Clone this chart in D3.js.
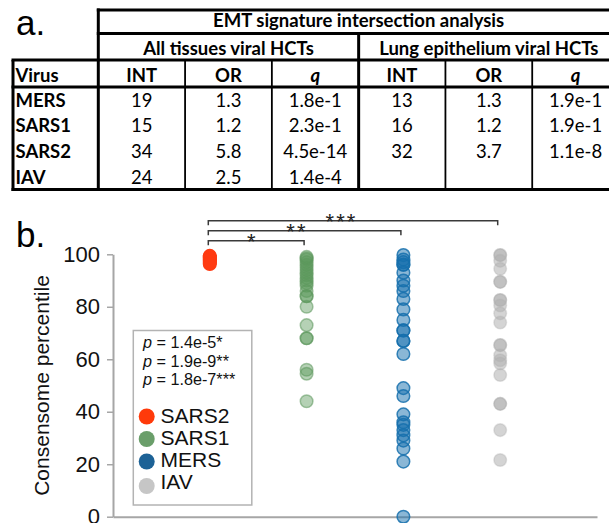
<!DOCTYPE html>
<html><head><meta charset="utf-8">
<script src="https://cdn.jsdelivr.net/npm/d3@7"></script>
<style>body{margin:0;background:#fff}svg{display:block}</style>
</head><body>
<script>
// ---- Table (panel a) ----
const tableTitle = "EMT signature intersection analysis";
const groupTitles = ["All tissues viral HCTs", "Lung epithelium viral HCTs"];
const statCols = ["INT", "OR", "q"];
const viruses = ["MERS", "SARS1", "SARS2", "IAV"];
const allINT = ["19", "15", "34", "24"];
const allOR = ["1.3", "1.2", "5.8", "2.5"];
const allQ = ["1.8e-1", "2.3e-1", "4.5e-14", "1.4e-4"];
const lungINT = ["13", "16", "32", ""];
const lungOR = ["1.3", "1.2", "3.7", ""];
const lungQ = ["1.9e-1", "1.9e-1", "1.1e-8", ""];

// ---- Consensome percentiles (panel b) ----
const groups = ["SARS2", "SARS1", "MERS", "IAV"];
const sars2 = [99.4, 99, 98.6, 98.2, 97.8, 97.3, 96.8, 96.3];
const sars1 = [99, 98.5, 98, 97, 96, 95, 94, 93, 92, 91, 90, 89, 88, 86, 84, 84, 80, 73, 68, 68, 56, 54.5, 44];
const mers = [99.7, 98, 97, 96, 96, 93, 90, 88, 86, 83, 79, 75, 71, 71, 67, 67, 62, 49, 46, 39, 36, 35, 33, 31, 29, 26, 21, 0];
const iav = [99.7, 99.7, 97.5, 94.5, 89.5, 89.5, 82.6, 82.6, 80.5, 77.5, 74, 65.4, 65.4, 61.5, 59.6, 58.4, 54, 43, 43, 33, 21.6];
const yTicks = [0, 20, 40, 60, 80, 100];
const pLabels = ["1.4e-5*", "1.9e-9**", "1.8e-7***"];
const sigStars = ["*", "**", "***"];
const sigTargets = ["SARS1", "MERS", "IAV"];

const colors = {SARS2: "#ff3b12", SARS1: "#5c985c", MERS: "#1670ad", IAV: "#b0b0b0"};
const legendColors = {SARS2: "#ff3a0a", SARS1: "#6a9e6a", MERS: "#1d6296", IAV: "#c6c6c6"};

const svg = d3.select("body").append("svg").attr("width", 609).attr("height", 523);

// ===== Panel a: table =====
const tf = "Lato, 'Open Sans', sans-serif";
const tbl = svg.append("g");
const left = 13, virusRight = 98.3, right = 619;
const colX = d3.scaleBand().domain(d3.range(6)).range([virusRight, right]);
const yTop = 10, yH1 = 33.5, yH2 = 60, yH3 = 87, yBot = 189.5;
const rowY = d3.scaleBand().domain(viruses).range([yH3, yBot]);

const thick = 3, thin = 1.8;
function hline(x1, x2, y, w) { tbl.append("line").attr("x1", x1).attr("x2", x2).attr("y1", y).attr("y2", y).attr("stroke", "#000").attr("stroke-width", w); }
function vline(x, y1, y2, w) { tbl.append("line").attr("x1", x).attr("x2", x).attr("y1", y1).attr("y2", y2).attr("stroke", "#000").attr("stroke-width", w); }

hline(virusRight - 1.5, right, yTop, thick);
hline(virusRight - 1.5, right, yH1, thick);
hline(left - 1.5, right, yH2, thick);
hline(left - 1.5, right, yH3, thick);
hline(left - 1.5, right, yBot, thick);
vline(left, yH2, yBot + 1.5, thick);
vline(virusRight, yTop - 1.5, yBot + 1.5, thick);
vline(colX(3), yH1, yBot, thick);
[1, 2, 4, 5].forEach(i => vline(colX(i), yH2, yBot, thin));

const txt = (x, y, s, anchor, opts = {}) => tbl.append("text").attr("x", x).attr("y", y)
  .attr("text-anchor", anchor).attr("font-family", tf).attr("font-size", opts.size || 18.5)
  .attr("font-weight", opts.bold ? "bold" : "normal").attr("font-style", opts.italic ? "italic" : "normal")
  .attr("fill", "#000").text(s);

txt(colX(3), 27, tableTitle, "middle", {bold: true});
txt(colX(0) + colX.bandwidth() * 1.5, 55, groupTitles[0], "middle", {bold: true});
txt(colX(3) + colX.bandwidth() * 1.5, 55, groupTitles[1], "middle", {bold: true});
txt(left + 2.5, 81.5, "Virus", "start", {bold: true});
d3.range(6).forEach(i => {
  const c = statCols[i % 3];
  txt(colX(i) + colX.bandwidth() / 2, 81.5, c, "middle", {bold: true, italic: c === "q"});
});
const cols = [allINT, allOR, allQ, lungINT, lungOR, lungQ];
viruses.forEach((v, r) => {
  const by = rowY(v) + rowY.bandwidth() / 2 + 7;
  txt(left + 2.5, by, v, "start", {bold: true});
  cols.forEach((col, i) => txt(colX(i) + colX.bandwidth() / 2, by, col[r], "middle"));
});

svg.append("text").attr("x", 16).attr("y", 35).attr("font-family", "'Liberation Sans', Arial, sans-serif")
  .attr("font-size", 35).text("a.");

// ===== Panel b: dot plot =====
const af = "'Liberation Sans', Arial, sans-serif";
svg.append("text").attr("x", 16).attr("y", 246.5).attr("font-family", af).attr("font-size", 35).text("b.");

const x = d3.scalePoint().domain(groups).range([113, 597]).padding(1);
const y = d3.scaleLinear().domain([0, 100]).range([516.7, 254.3]);

const yAxis = svg.append("g").attr("transform", "translate(113,0)")
  .call(d3.axisLeft(y).tickValues(yTicks).tickSize(6).tickSizeOuter(0).tickPadding(7));
yAxis.select(".domain").attr("stroke", "#a6a6a6").attr("stroke-width", 2);
yAxis.selectAll(".tick line").attr("stroke", "#a6a6a6").attr("stroke-width", 1.5);
yAxis.selectAll(".tick text").attr("font-family", af).attr("font-size", 22).attr("fill", "#111");

const xAxis = svg.append("g").attr("transform", `translate(0,${y(0)})`)
  .call(d3.axisBottom(x).tickValues([]).tickSizeOuter(0));
xAxis.select(".domain").attr("stroke", "#a6a6a6").attr("stroke-width", 2);

svg.append("text").attr("transform", `translate(49,${(y(0) + y(100)) / 2}) rotate(-90)`)
  .attr("text-anchor", "middle").attr("font-family", af).attr("font-size", 21).attr("fill", "#111")
  .text("Consensome percentile");

// points
const series = {SARS2: sars2, SARS1: sars1, MERS: mers, IAV: iav};
const style = {
  SARS2: {fo: 1, so: 1},
  SARS1: {fo: 0.45, so: 0.55},
  MERS: {fo: 0.5, so: 0.85},
  IAV: {fo: 0.55, so: 0.35}
};
groups.forEach(g => {
  svg.append("g").selectAll("circle").data(series[g]).join("circle")
    .attr("cx", x(g)).attr("cy", d => y(d)).attr("r", 6.3)
    .attr("fill", colors[g]).attr("fill-opacity", style[g].fo)
    .attr("stroke", colors[g]).attr("stroke-opacity", style[g].so).attr("stroke-width", 1.5);
});

// significance brackets
const br = svg.append("g");
sigTargets.forEach((t, i) => {
  const by = y(100) - 13.6 - i * 10;
  const x1 = x("SARS2") - 1.5, x2 = x(t) - 2.5;
  br.append("path").attr("d", `M${x1},${by + 4.5}V${by}H${x2}V${by + 4.5}`)
    .attr("fill", "none").attr("stroke", "#3a3a3a").attr("stroke-width", 1.5);
  br.append("text").attr("x", x1 + (x2 - x1) * 0.46).attr("y", by + 8.5)
    .attr("text-anchor", "middle").attr("font-family", af).attr("font-size", 22)
    .attr("letter-spacing", 2).attr("fill", "#222").text(sigStars[i]);
});

// legend
const lg = svg.append("g");
lg.append("rect").attr("x", 133.3).attr("y", 330.5).attr("width", 118.5).attr("height", 174.5)
  .attr("fill", "#fff").attr("stroke", "#b3b3b3").attr("stroke-width", 1.5);
pLabels.forEach((p, i) => {
  const t = lg.append("text").attr("x", 143).attr("y", 348.3 + i * 18.4)
    .attr("font-family", af).attr("font-size", 16.2).attr("fill", "#111");
  t.append("tspan").attr("font-style", "italic").text("p");
  t.append("tspan").text(" = " + p);
});
const markerY = [416.5, 439, 461.5, 486];
groups.forEach((g, i) => {
  lg.append("circle").attr("cx", 146.7).attr("cy", markerY[i]).attr("r", 8).attr("fill", legendColors[g]);
  lg.append("text").attr("x", 160.5).attr("y", 423.3 + i * 21.8).attr("font-family", af)
    .attr("font-size", 21).attr("fill", "#111").text(g);
});
</script>
</body></html>
